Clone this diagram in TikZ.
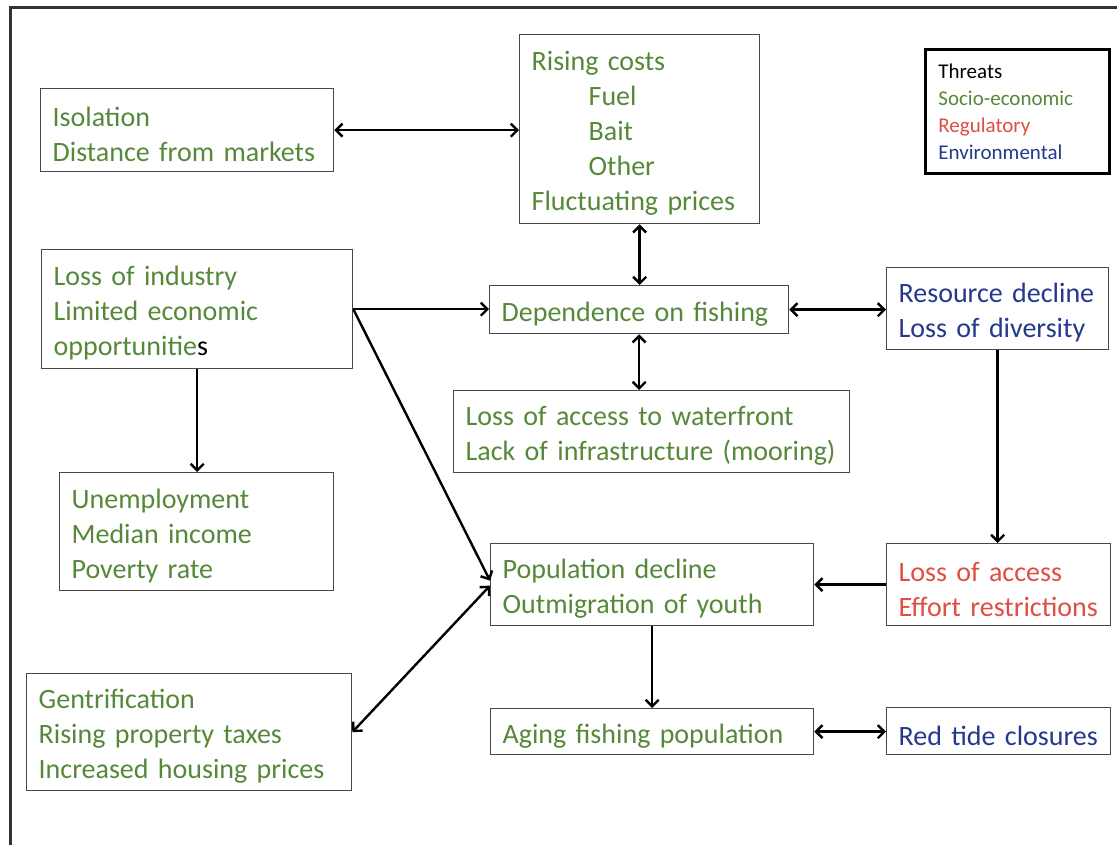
\documentclass[tikz,border=0pt]{standalone}
\usepackage{fontspec}
\setmainfont{Carlito}
\usetikzlibrary{arrows.meta}
\definecolor{tgreen}{RGB}{86,136,58}
\definecolor{tblue}{RGB}{36,56,140}
\definecolor{tred}{RGB}{222,78,66}
\definecolor{frame}{RGB}{50,50,50}
\begin{document}
\begin{tikzpicture}[x=1pt,y=-1pt,
  >={Straight Barb[length=6.5pt,width=13pt]},
  box/.style={draw=black!72, line width=1.3pt, anchor=north west, align=left,
    inner xsep=12pt, inner ysep=0pt, text=tgreen,
    font=\fontsize{28}{35}\selectfont,
    execute at begin node={\rule{0pt}{28pt}}},
  envbox/.style={box, text=tblue},
  regbox/.style={box, text=tred},
  legbox/.style={draw=black, line width=2.8pt, anchor=north west, align=left,
    inner xsep=13pt, inner ysep=0pt, font=\fontsize{21}{27}\selectfont},
  conn/.style={line width=2.4pt, draw=black}]
\useasboundingbox (0,0) rectangle (1117,845);
\draw[line width=3pt, draw=frame] (10,850) -- (10,8) -- (1125,8);

% nodes
\node[box, text width=269pt, minimum height=83pt] (iso) at (40,88)
  {Isolation\\Distance~from~markets};
\node[box, text width=216pt, minimum height=189pt] (cost) at (519,34)
  {Rising~costs\\\hspace*{57pt}Fuel\\\hspace*{57pt}Bait\\\hspace*{57pt}Other\\Fluctuating~prices};
\node[legbox, text width=158pt, minimum height=124pt] (leg) at (924,48)
  {Threats\\\textcolor{tgreen}{Socio-economic}\\\textcolor{tred}{Regulatory}\\\textcolor{tblue}{Environmental}};
\node[box, text width=287pt, minimum height=119pt] (ind) at (41,249)
  {Loss~of~industry\\Limited~economic\\opportunitie\textcolor{black}{s}};
\node[box, text width=275pt, minimum height=48pt] (dep) at (489,285)
  {Dependence~on~fishing};
\node[envbox, text width=198pt, minimum height=82pt] (res) at (886,267)
  {Resource~decline\\Loss~of~diversity};
\node[box, text width=372pt, minimum height=82pt] (wf) at (453,390)
  {Loss~of~access~to~waterfront\\Lack~of~infrastructure~(mooring)};
\node[box, text width=250pt, minimum height=118pt] (unemp) at (59,472)
  {Unemployment\\Median~income\\Poverty~rate};
\node[box, text width=299pt, minimum height=82pt] (pop) at (490,543)
  {Population~decline\\Outmigration~of~youth};
\node[regbox, text width=200pt, minimum height=82pt] (reg) at (886,543)
  {Loss~of~access\\Effort~restrictions};
\node[box, text width=301pt, minimum height=117pt] (gent) at (26,673)
  {Gentrification\\Rising~property~taxes\\Increased~housing~prices};
\node[box, text width=299pt, minimum height=46pt] (aging) at (490,708)
  {Aging~fishing~population};
\node[envbox, text width=200pt, minimum height=47pt] (red) at (886,707)
  {Red~tide~closures};

% connectors
\draw[conn, <->] (iso.east) -- (iso.east -| cost.west);
\draw[conn, <->] (cost.south) -- (cost.south |- dep.north);
\draw[conn, <->] (dep.south) -- (dep.south |- wf.north);
\draw[conn, <->] (dep.east) -- (dep.east -| res.west);
\draw[conn, ->] (ind.east) -- (ind.east -| dep.west);
\draw[conn, ->] (ind.east) -- ([yshift=4pt]pop.west);
\draw[conn, <->] ([yshift=-1pt]pop.west) -- (gent.east);
\draw[conn, ->] (ind.south) -- (ind.south |- unemp.north);
\draw[conn, ->] (res.south) -- (res.south |- reg.north);
\draw[conn, ->] (reg.west) -- (reg.west -| pop.east);
\draw[conn, ->] (pop.south) -- (pop.south |- aging.north);
\draw[conn, <->] (aging.east) -- (aging.east -| red.west);
\end{tikzpicture}
\end{document}
